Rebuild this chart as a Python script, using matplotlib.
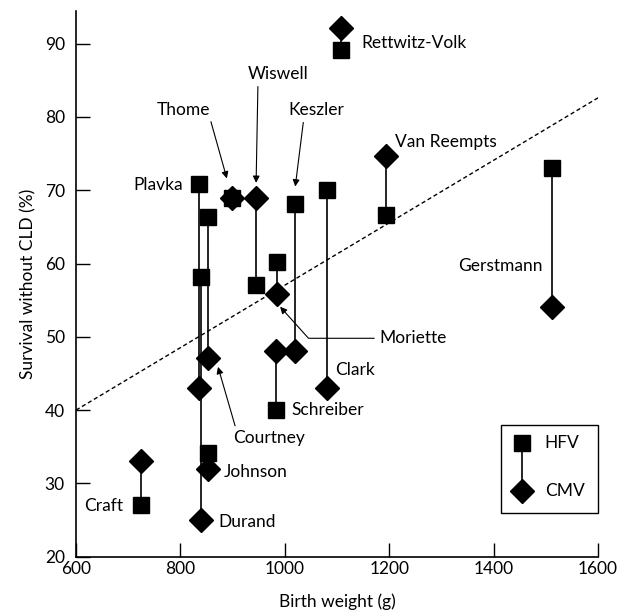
import matplotlib
matplotlib.use("Agg")
import matplotlib.pyplot as plt
from matplotlib.patches import Rectangle

plt.rcParams['font.family'] = ['Lato', 'DejaVu Sans']

# study, mean birth weight (g), survival without CLD (%) for HFV and CMV
studies = ['Craft', 'Durand', 'Plavka', 'Courtney', 'Johnson', 'Thome',
           'Wiswell', 'Moriette', 'Schreiber', 'Keszler', 'Clark',
           'Rettwitz-Volk', 'Van Reempts', 'Gerstmann']
weight = [724, 839, 835, 852, 852, 898, 945, 985, 983, 1020, 1080, 1108, 1194, 1511]
hfv = [27, 58.2, 70.9, 66.4, 34.1, 69, 57.1, 60.2, 40, 68.1, 70, 89.1, 66.6, 73]
cmv = [33, 25, 43, 47.1, 32, 69, 68.9, 55.8, 48.1, 48, 43, 92.1, 74.6, 54.1]

# regression line end points
trend_x = [600, 1600]
trend_y = [40, 82.6]

x_ticks = [600, 800, 1000, 1200, 1400, 1600]
y_ticks = [20, 30, 40, 50, 60, 70, 80, 90]

fig = plt.figure(figsize=(6.19, 6.13), dpi=100)
ax = fig.add_axes([0.1228, 0.0918, 0.8433, 0.8909])

ax.plot(trend_x, trend_y, color='k', lw=1, ls=(0, (3, 2)), zorder=1)

for w, h, c in zip(weight, hfv, cmv):
    ax.plot([w, w], [h, c], color='k', lw=1.2, zorder=2)
ax.plot(weight, hfv, ls='none', marker='s', ms=12, color='k', zorder=3)
ax.plot(weight, cmv, ls='none', marker='D', ms=12, color='k', zorder=3)

fs = 12.5
arrow = dict(arrowstyle='-|>', color='k', lw=0.8, mutation_scale=10,
             shrinkA=1, shrinkB=0)

# plain labels
ax.text(690, 26.9, 'Craft', fontsize=fs, ha='right', va='center')
ax.text(872, 24.7, 'Durand', fontsize=fs, ha='left', va='center')
ax.text(883, 31.6, 'Johnson', fontsize=fs, ha='left', va='center')
ax.text(805, 70.7, 'Plavka', fontsize=fs, ha='right', va='center')
ax.text(1013, 40.0, 'Schreiber', fontsize=fs, ha='left', va='center')
ax.text(1096, 45.5, 'Clark', fontsize=fs, ha='left', va='center')
ax.text(1147, 90.1, 'Rettwitz-Volk', fontsize=fs, ha='left', va='center')
ax.text(1211, 76.6, 'Van Reempts', fontsize=fs, ha='left', va='center')
ax.text(1494, 59.6, 'Gerstmann', fontsize=fs, ha='right', va='center')

# labels with arrows
ax.annotate('Thome', xy=(889, 71.6), xytext=(805, 81), fontsize=fs,
            ha='center', va='center',
            arrowprops=dict(arrow, relpos=(1.0, 0.0)))
ax.annotate('Wiswell', xy=(945, 71.0), xytext=(987, 85.8), fontsize=fs,
            ha='center', va='center',
            arrowprops=dict(arrow, relpos=(0.17, 0.0)))
ax.annotate('Keszler', xy=(1020, 70.5), xytext=(1061, 80.9), fontsize=fs,
            ha='center', va='center',
            arrowprops=dict(arrow, relpos=(0.27, 0.0)))
ax.annotate('Moriette', xy=(991, 54.1), xytext=(1182, 49.8), fontsize=fs,
            ha='left', va='center',
            arrowprops=dict(arrow, relpos=(0.0, 0.5), shrinkA=2,
                            connectionstyle='angle,angleA=180,angleB=132,rad=0'))
ax.annotate('Courtney', xy=(872, 45.9), xytext=(969, 36.2), fontsize=fs,
            ha='center', va='center',
            arrowprops=dict(arrow, relpos=(0.05, 1.0)))

# legend drawn as a box with the same marker pair
ax.add_patch(Rectangle((0.814, 0.080), 0.186, 0.161, transform=ax.transAxes,
                       fill=False, ec='k', lw=1, clip_on=False, zorder=4))
ax.plot([0.854, 0.854], [0.208, 0.120], transform=ax.transAxes, color='k',
        lw=1.2, clip_on=False, zorder=4)
ax.plot([0.854], [0.208], transform=ax.transAxes, marker='s', ms=12,
        color='k', clip_on=False, zorder=5)
ax.plot([0.854], [0.120], transform=ax.transAxes, marker='D', ms=12,
        color='k', clip_on=False, zorder=5)
ax.text(0.898, 0.208, 'HFV', transform=ax.transAxes, fontsize=fs, va='center')
ax.text(0.898, 0.120, 'CMV', transform=ax.transAxes, fontsize=fs, va='center')

ax.set_xlim(600, 1600)
ax.set_ylim(20, 94.5)
ax.set_xticks(x_ticks)
ax.set_yticks(y_ticks)
ax.tick_params(direction='in', length=10, width=1, labelsize=fs)
ax.tick_params(axis='x', pad=3)
ax.tick_params(axis='y', pad=8)
for s in ['top', 'right']:
    ax.spines[s].set_visible(False)
for s in ['left', 'bottom']:
    ax.spines[s].set_linewidth(1.2)

ax.set_xlabel('Birth weight (g)', fontsize=fs, labelpad=12)
ax.set_ylabel('Survival without CLD (%)', fontsize=fs, labelpad=6)

plt.savefig('out.png', dpi=100)
